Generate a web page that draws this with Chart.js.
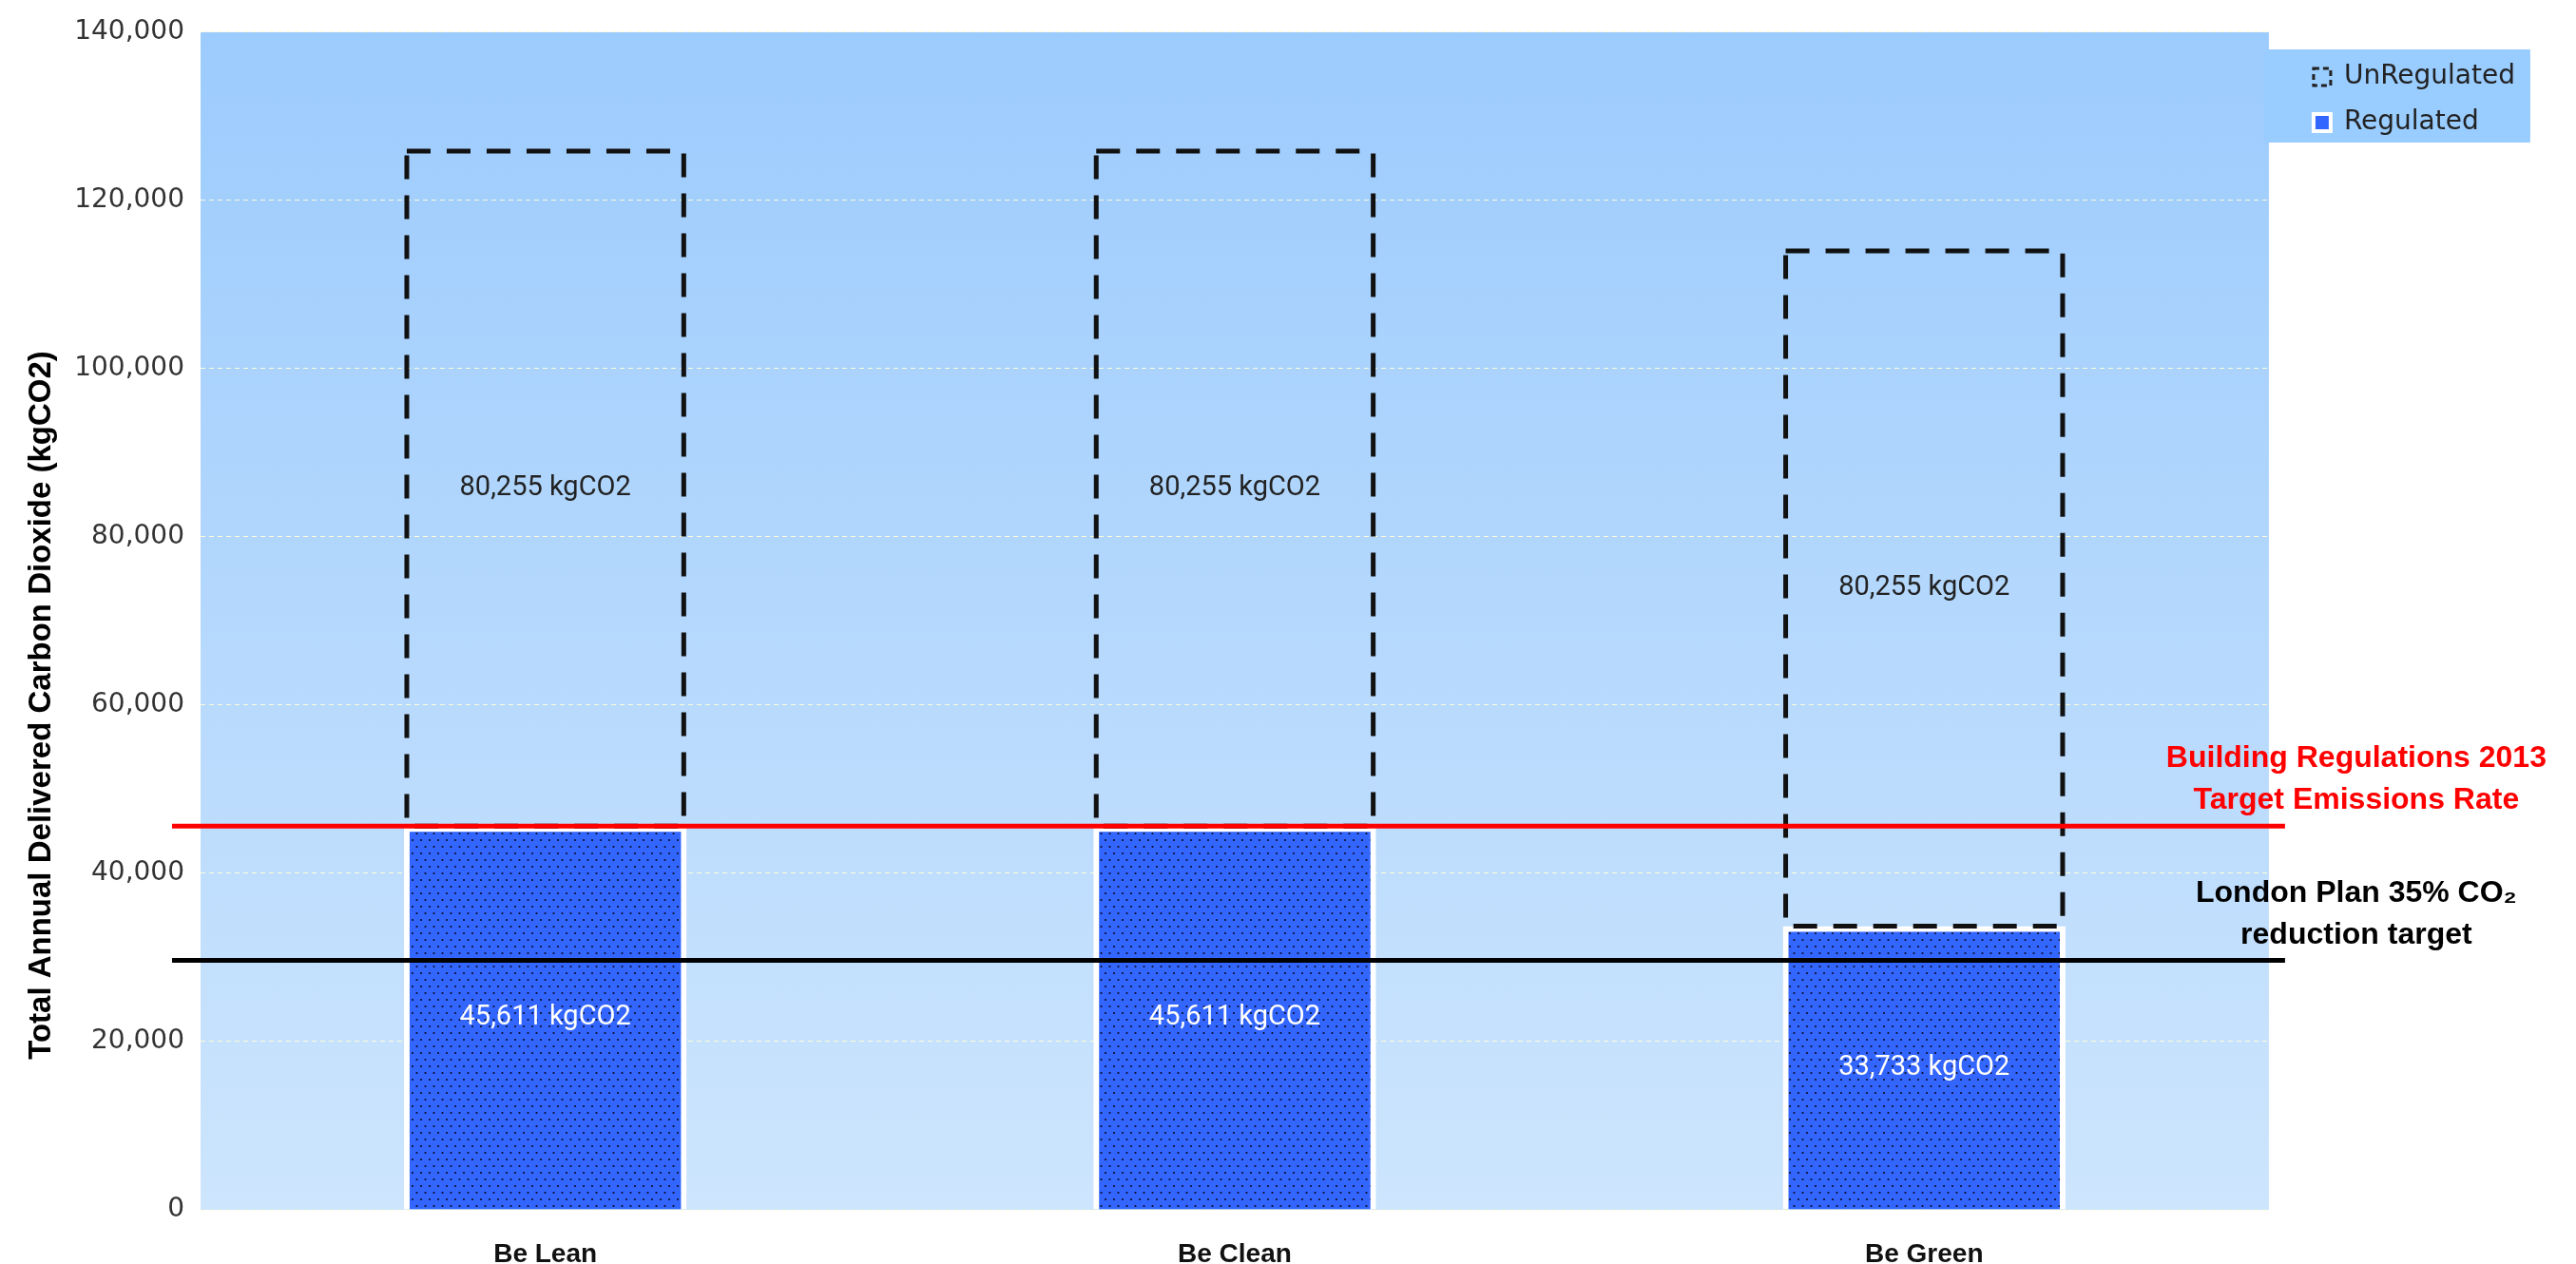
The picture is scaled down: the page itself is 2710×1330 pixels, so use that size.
<!DOCTYPE html>
<html>
<head>
<meta charset="utf-8">
<script src="https://cdn.jsdelivr.net/npm/chart.js@4.4.1/dist/chart.umd.min.js"></script>
<style>
    html, body { margin: 0; padding: 0; background: #fff; }
    #wrap { width: 2710px; height: 1330px; }
</style>
</head>
<body>
<div id="wrap"><canvas id="myChart"></canvas></div>
<script>
const categories = ['Be Lean', 'Be Clean', 'Be Green'];
const regulated = [45611, 45611, 33733];
const unregulated = [80255, 80255, 80255];
const yTicks = [0, 20000, 40000, 60000, 80000, 100000, 120000, 140000];
const targetValues = [45611, 29647];
const targetLabels = [
    ['Building Regulations 2013', 'Target Emissions Rate'],
    ['London Plan 35% CO₂', 'reduction target']
];
const targetColors = ['#ff0000', '#000000'];
const yTitle = 'Total Annual Delivered Carbon Dioxide (kgCO2)';

const canvas = document.getElementById('myChart');
const ctx = canvas.getContext('2d');

// blue fill with small staggered dots
function dotPattern() {
    const tile = document.createElement('canvas');
    tile.width = 18;
    tile.height = 14;
    const g = tile.getContext('2d');
    g.fillStyle = '#3366ff';
    g.fillRect(0, 0, 18, 14);
    g.fillStyle = '#0d0d26';
    [[2, 2], [11, 2], [6.5, 9], [15.5, 9]].forEach(function (d) {
        g.beginPath();
        g.arc(d[0], d[1], 1.1, 0, Math.PI * 2);
        g.fill();
    });
    return ctx.createPattern(tile, 'repeat');
}

const plotBackground = {
    id: 'plotBackground',
    afterLayout(chart) {
        // legend sits a bit further right than chart.js would put it
        if (chart.legend) {
            chart.legend.left += 27;
            chart.legend.right += 27;
        }
    },
    beforeDraw(chart) {
        const c = chart.ctx;
        const a = chart.chartArea;
        c.save();
        const grad = c.createLinearGradient(0, a.top, 0, a.bottom);
        grad.addColorStop(0, '#9ccbfd');
        grad.addColorStop(1, '#cde5fd');
        c.fillStyle = grad;
        c.fillRect(a.left, a.top, a.right - a.left, a.bottom - a.top);

        const boxes = chart.legend && chart.legend.legendHitBoxes;
        if (boxes && boxes.length) {
            const first = boxes[0];
            const last = boxes[boxes.length - 1];
            c.fillStyle = '#99ccff';
            c.fillRect(first.left - 52, first.top - 15, 280, last.top + last.height - first.top + 22);
        }
        c.restore();
    }
};

const barExtras = {
    id: 'barExtras',
    afterDatasetsDraw(chart) {
        const c = chart.ctx;
        const a = chart.chartArea;
        const y = chart.scales.y;
        c.save();

        // dashed outline around the unregulated part
        c.strokeStyle = '#111';
        c.lineWidth = 5;
        c.setLineDash([25, 17]);
        chart.getDatasetMeta(1).data.forEach(function (bar) {
            const p = bar.getProps(['x', 'y', 'base', 'width'], true);
            const l = p.x - p.width / 2 + 3;
            const r = p.x + p.width / 2 - 3;
            c.strokeRect(l, p.y, r - l, p.base - p.y);
        });
        c.setLineDash([]);

        // value labels in the middle of each segment
        c.font = '29px Roboto';
        c.textAlign = 'center';
        c.textBaseline = 'middle';
        chart.data.datasets.forEach(function (ds, di) {
            c.fillStyle = di === 0 ? '#ffffff' : '#222222';
            chart.getDatasetMeta(di).data.forEach(function (bar, i) {
                const p = bar.getProps(['x', 'y', 'base'], true);
                c.fillText(ds.data[i].toLocaleString('en-US') + ' kgCO2', p.x, (p.y + p.base) / 2);
            });
        });

        // target lines + their captions
        targetValues.forEach(function (v, i) {
            const py = y.getPixelForValue(v);
            c.strokeStyle = targetColors[i];
            c.lineWidth = 5;
            c.beginPath();
            c.moveTo(a.left - 30, py);
            c.lineTo(a.right + 17, py);
            c.stroke();

            c.fillStyle = targetColors[i];
            c.font = 'bold 32px "Liberation Sans"';
            c.textBaseline = 'alphabetic';
            const cx = a.right + 92;
            c.fillText(targetLabels[i][0], cx, py - 62);
            c.fillText(targetLabels[i][1], cx, py - 18);
        });
        c.restore();
    },
    afterDraw(chart) {
        const c = chart.ctx;
        c.save();
        c.translate(44, 742);
        c.rotate(-Math.PI / 2);
        c.font = 'bold 33px "Liberation Sans Narrow", "Liberation Sans"';
        c.fillStyle = '#000';
        c.textAlign = 'center';
        c.textBaseline = 'middle';
        c.fillText(yTitle, 0, 0);
        c.restore();
    }
};

const data = {
    labels: categories,
    datasets: [{
        label: 'Regulated',
        data: regulated,
        backgroundColor: dotPattern(),
        borderColor: '#ffffff',
        borderWidth: 6,
        borderSkipped: 'start',
        barPercentage: 0.41,
        categoryPercentage: 1
    }, {
        label: 'UnRegulated',
        data: unregulated,
        backgroundColor: 'rgba(0,0,0,0)',
        borderWidth: 0,
        barPercentage: 0.41,
        categoryPercentage: 1
    }]
};

const config = {
    type: 'bar',
    data: data,
    options: {
        responsive: true,
        maintainAspectRatio: false,
        animation: false,
        layout: {
            padding: { top: 29, right: 81, left: 0, bottom: 0 }
        },
        scales: {
            x: {
                stacked: true,
                grid: { display: false },
                border: { display: false },
                ticks: {
                    color: '#111',
                    padding: 22,
                    font: { family: 'Liberation Sans', size: 28, weight: 'bold' }
                },
                afterFit: function (scale) { scale.height = 57; }
            },
            y: {
                stacked: true,
                min: 0,
                max: 140000,
                afterBuildTicks: function (scale) {
                    scale.ticks = yTicks.map(function (v) { return { value: v }; });
                },
                grid: {
                    color: 'rgba(255, 255, 215, 0.95)',
                    lineWidth: 1,
                    drawTicks: false
                },
                border: { display: false, dash: [5, 4] },
                ticks: {
                    color: '#333',
                    padding: 17,
                    font: { family: 'DejaVu Sans', size: 28 },
                    callback: function (v) { return Number(v).toLocaleString('en-US'); }
                },
                afterFit: function (scale) { scale.width = 211; }
            }
        },
        plugins: {
            legend: {
                position: 'right',
                align: 'start',
                title: { display: true, text: ' ', font: { size: 10 }, padding: { top: 6, bottom: 0 } },
                labels: {
                    color: '#222',
                    boxWidth: 18,
                    boxHeight: 18,
                    padding: 20,
                    font: { family: 'DejaVu Sans', size: 28 },
                    generateLabels: function (chart) {
                        return [{
                            text: chart.data.datasets[1].label,
                            fillStyle: 'rgba(0,0,0,0)',
                            strokeStyle: '#222',
                            lineWidth: 3,
                            lineDash: [6, 4],
                            fontColor: '#222',
                            datasetIndex: 1,
                            hidden: false
                        }, {
                            text: chart.data.datasets[0].label,
                            fillStyle: '#3366ff',
                            strokeStyle: '#ffffff',
                            lineWidth: 4,
                            fontColor: '#222',
                            datasetIndex: 0,
                            hidden: false
                        }];
                    }
                }
            },
            tooltip: { enabled: false }
        }
    },
    plugins: [plotBackground, barExtras]
};

const myChart = new Chart(ctx, config);
</script>
</body>
</html>
